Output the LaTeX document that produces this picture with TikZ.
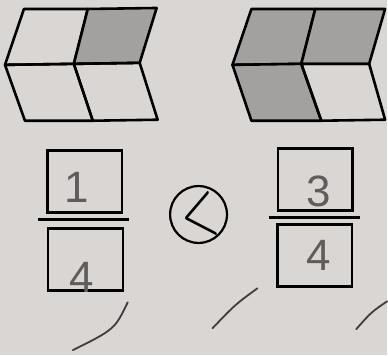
\documentclass[tikz,border=0pt]{standalone}
\usepackage{fontspec}
\setsansfont{Liberation Sans}
\usepackage{graphicx}
\usepackage{tikz}
\usetikzlibrary{positioning, calc}
\definecolor{papercolor}{RGB}{217,214,212}
\definecolor{shadecolor}{RGB}{163,161,160}
\definecolor{pencilcolor}{RGB}{95,92,92}
\definecolor{tickcolor}{RGB}{70,58,62}

\begin{document}
\begin{tikzpicture}[x=1pt, y=-1pt,
    cell/.style={line width=2.6pt, line join=round, draw=black},
    shaded/.style={cell, fill=shadecolor},
    numbox/.style={rectangle, draw=black, line width=2.4pt, minimum width=75pt, minimum height=62pt, inner sep=0pt},
    digit/.style={font=\sffamily\fontsize{44}{44}\selectfont, text=pencilcolor, inner sep=0pt},
    bar/.style={line width=2.4pt},
    tick/.style={tickcolor, line width=1.8pt, line cap=round}
]
% paper
\fill[papercolor] (0,0) rectangle (388,356);

% Left figure: one of four parts shaded
\draw[cell]   (24,9) -- (88,9) -- (74,64) -- (5,65) -- cycle;
\draw[shaded] (88,9) -- (157,8) -- (140,63) -- (74,64) -- cycle;
\draw[cell]   (5,65) -- (74,64) -- (93,121) -- (25,121) -- cycle;
\draw[cell]   (74,64) -- (140,63) -- (158,120) -- (93,121) -- cycle;

% Right figure: three of four parts shaded
\draw[shaded] (252,9) -- (316,9) -- (302,64) -- (233,65) -- cycle;
\draw[shaded] (316,9) -- (386,9) -- (370,64) -- (302,64) -- cycle;
\draw[shaded] (233,65) -- (302,64) -- (322,121) -- (252,121) -- cycle;
\draw[cell]   (302,64) -- (370,64) -- (386,120) -- (322,121) -- cycle;

% Left fraction
\node[numbox] (lnum) at (85,182) {};
\node[numbox] (lden) at (85.5,260) {};
\draw[bar] ($(lnum.south west)+(-8,6)$) -- ($(lnum.south east)+(6,6)$);
\node[digit] (one) at ($(lnum.center)+(-8,6)$) {1};
\node[digit] (four) at ($(lden.center)+(-4,18)$) {4};

% Compare sign
\node[circle, draw=black, line width=2.2pt, minimum size=57pt, inner sep=0pt] (cmp) at (199,215) {};
\node[rotate=11, inner sep=0pt] (lt) at ($(cmp.center)+(1,1)$) {\resizebox{36pt}{42pt}{$<$}};

% Right fraction
\node[numbox] (rnum) at (316,180) {};
\node[numbox] (rden) at (315.5,256) {};
\draw[bar] ($(rnum.south west)+(-8,6)$) -- ($(rnum.south east)+(6,6)$);
\node[digit] (three) at ($(rnum.center)+(3,12)$) {3};
\node[digit] (four2) at ($(rden.center)+(4,0)$) {4};

% Ticks
\draw[tick] (128,303) .. controls (115,330) .. (73,351);
\draw[tick] (258,289) .. controls (236,305) .. (213,329);
\draw[tick] (388,302) .. controls (372,313) .. (357,330);
\end{tikzpicture}
\end{document}
